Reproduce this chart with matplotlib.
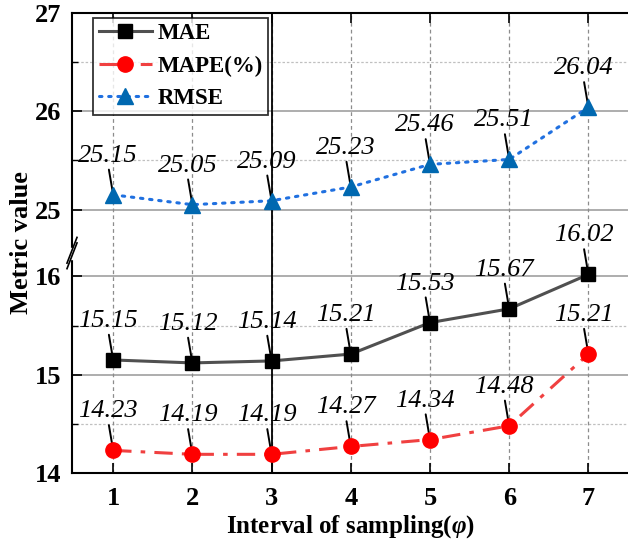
import matplotlib
matplotlib.use("Agg")
import matplotlib.pyplot as plt
from matplotlib.lines import Line2D
import numpy as np

# ---- data ----
intervals = [1, 2, 3, 4, 5, 6, 7]
mae = [15.15, 15.12, 15.14, 15.21, 15.53, 15.67, 16.02]
mape = [14.23, 14.19, 14.19, 14.27, 14.34, 14.48, 15.21]
rmse = [25.15, 25.05, 25.09, 25.23, 25.46, 25.51, 26.04]
lower_ticks = [14, 15, 16]
upper_ticks = [25, 26, 27]

# broken-axis mapping
GAP = 0.68
def ymap(v):
    v = np.asarray(v, dtype=float)
    return np.where(v >= 20, v - 25 + 16 + GAP, v)

plt.rcParams['font.family'] = ['Liberation Serif', 'DejaVu Serif']
plt.rcParams['mathtext.fontset'] = 'custom'
plt.rcParams['mathtext.rm'] = 'Liberation Serif'
plt.rcParams['mathtext.it'] = 'Liberation Serif:italic'
plt.rcParams['mathtext.bf'] = 'Liberation Serif:bold'
plt.rcParams['mathtext.bfit'] = 'Liberation Serif:italic:bold'

fig = plt.figure(figsize=(6.28, 5.42), dpi=100)
ax = fig.add_axes([72/628, 69/542, 556/628, 460/542])

ymin, ymax = 14, 16 + GAP + 2
ax.set_xlim(0.48, 7.5)
ax.set_ylim(ymin, ymax)

# grid
for yv in lower_ticks + upper_ticks:
    yy = float(ymap(yv))
    ax.axhline(yy, color='#a0a0a0', lw=1.2, zorder=0.5)
for yv in [14.5, 15.5, 25.5, 26.5]:
    yy = float(ymap(yv))
    ax.axhline(yy, color='#c0c0c0', lw=0.9, ls=(0, (2, 1.5)), zorder=0.5)
for xv in intervals:
    ax.axvline(xv, color='#8c8c8c', lw=0.9, ls=(0, (3, 2.5)), zorder=0.5)
ax.axvline(3, color='black', lw=1.3, zorder=0.6)

# series
l1, = ax.plot(intervals, ymap(mae), color='#505050', lw=2.2, marker='s',
              markersize=10, markerfacecolor='black', markeredgecolor='black',
              label='MAE', zorder=3)
l2, = ax.plot(intervals, ymap(mape), color='#f04040', lw=2.2,
              ls=(0, (6, 3, 1.5, 3)), marker='o', markersize=11,
              markerfacecolor='#ff0000', markeredgecolor='#ff0000',
              label='MAPE(%)', zorder=3)
l3, = ax.plot(intervals, ymap(rmse), color='#2070e0', lw=2.2,
              ls=(0, (0.8, 2.2)), dash_capstyle='round', marker='^',
              markersize=12, markerfacecolor='#0068b0', markeredgecolor='#0068b0',
              label='RMSE', zorder=3)

# annotations
for series in (mae, mape, rmse):
    for xv, v in zip(intervals, series):
        ax.annotate(f"{v:.2f}", xy=(xv, float(ymap(v))), xycoords='data',
                    xytext=(-5, 39), textcoords='offset pixels',
                    ha='center', va='center', fontsize=19, style='italic',
                    arrowprops=dict(arrowstyle='-', color='black', lw=1.4,
                                    shrinkA=0, shrinkB=0, relpos=(0.5, 0.06)),
                    zorder=2.5)

# ticks
ax.set_xticks(intervals)
ax.set_xticklabels([str(i) for i in intervals], fontsize=19, fontweight='bold')
yt = [float(ymap(v)) for v in lower_ticks + upper_ticks]
ax.set_yticks(yt)
ax.set_yticklabels([str(v) for v in lower_ticks + upper_ticks], fontsize=19,
                   fontweight='bold')
ax.set_yticks([float(ymap(v)) for v in [14.5, 15.5, 25.5, 26.5]], minor=True)
ax.tick_params(axis='both', which='major', direction='in', length=7, width=1.2,
               top=True, pad=8)
ax.tick_params(axis='y', which='minor', direction='in', length=4, width=1.0)
ax.tick_params(axis='x', which='major', pad=10)

for s in ['left', 'bottom', 'top']:
    ax.spines[s].set_linewidth(1.5)
ax.spines['right'].set_visible(False)

ax.set_ylabel('Metric value', fontsize=19, fontweight='bold', labelpad=1)
ax.set_xlabel(r'Interval of sampling($\mathbfit{\varphi}$)', fontsize=18,
              fontweight='bold', labelpad=2)

# break marks on left spine
gap_mid = 16 + GAP * 0.35
yb = (gap_mid - ymin) / (ymax - ymin)
trans = ax.transAxes
ax.add_patch(plt.Rectangle((-0.01, yb - 0.012), 0.02, 0.024, transform=trans,
                           color='white', clip_on=False, zorder=5))
dx, dy = 0.009, 0.028
for off in (-0.006, 0.006):
    ax.add_line(Line2D([-dx, dx], [yb - dy + off, yb + dy + off], transform=trans,
                       color='black', lw=1.2, clip_on=False, zorder=6))

leg = ax.legend(handles=[l1, l2, l3], loc='upper left',
                bbox_to_anchor=(0.038, 0.99), borderaxespad=0,
                prop={'weight': 'bold', 'size': 16.5}, frameon=True,
                fancybox=False, edgecolor='black', handlelength=2.3,
                labelspacing=0.5, borderpad=0.25, handletextpad=0.25)
leg.get_frame().set_linewidth(1.3)
leg.set_zorder(10)

fig.savefig('out.png', dpi=100)
